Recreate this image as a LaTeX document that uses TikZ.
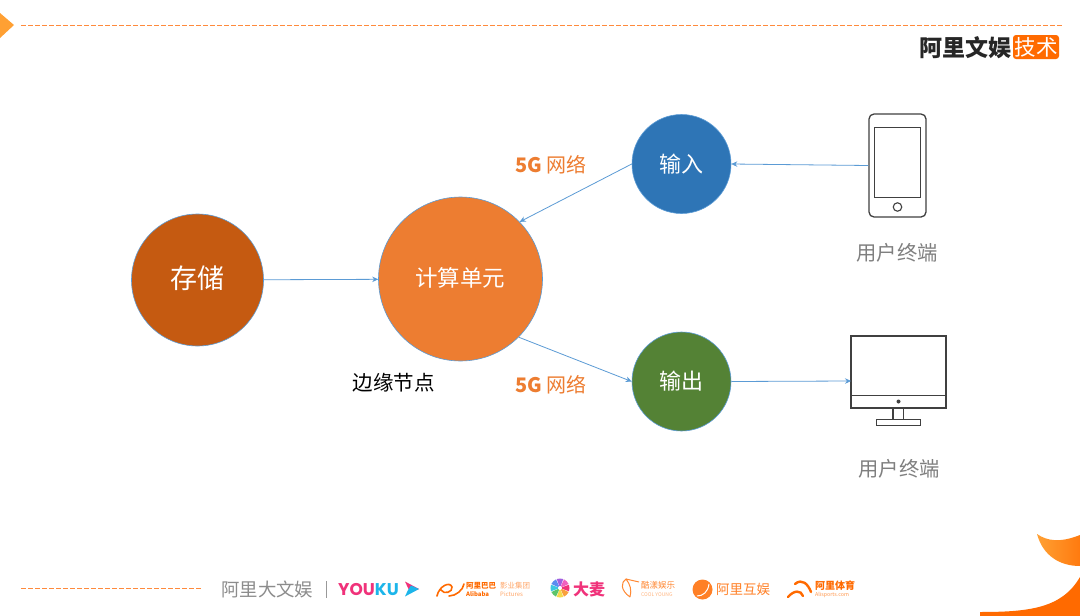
\documentclass[tikz,border=0pt]{standalone}
\usepackage{fontspec}
\setmainfont{Noto Sans CJK SC}
\newfontfamily\latinlogo{Poppins}
\usetikzlibrary{arrows.meta,shapes.geometric}
\definecolor{storec}{HTML}{C55A11}
\definecolor{calcc}{HTML}{ED7D31}
\definecolor{inc}{HTML}{2E75B6}
\definecolor{outc}{HTML}{548235}
\definecolor{edgec}{HTML}{5B9BD5}
\definecolor{greyt}{HTML}{7F7F7F}
\definecolor{brand}{HTML}{FF6A00}
\definecolor{brandl}{HTML}{FFA033}
\definecolor{dashc}{HTML}{FF8A3C}
\definecolor{pinkc}{HTML}{F0327A}
\definecolor{youb}{HTML}{1CB5EA}
\definecolor{iconc}{HTML}{404040}
\definecolor{wa}{HTML}{F0327A}
\definecolor{wb}{HTML}{F9A03C}
\definecolor{wc}{HTML}{F5D94A}
\definecolor{wd}{HTML}{5CC46A}
\definecolor{we}{HTML}{3CC8E0}
\definecolor{wf}{HTML}{5A8CF0}
\definecolor{wg}{HTML}{A060E0}
\definecolor{wh}{HTML}{F060C0}
\tikzset{
  x=1pt,y=-1pt,
  circ/.style={circle,draw=edgec,line width=.6pt,inner sep=0pt,text=white},
  flow/.style={draw=edgec,line width=.8pt,-{Stealth[length=6pt,width=5.5pt]}},
  lbl/.style={inner sep=0pt,anchor=center},
  net/.style={lbl,text=calcc,font=\fontsize{20}{24}\selectfont},
  term/.style={lbl,text=greyt,font=\fontsize{20.3}{24}\selectfont},
  ico/.style={draw=iconc,line width=1.3pt,fill=white,inner sep=0pt},
  hdash/.style={draw=dashc,line width=.9pt,dash pattern=on 4.5pt off 2.5pt},
  small/.style={lbl,anchor=west}
}
\begin{document}
\begin{tikzpicture}
\useasboundingbox (0,0) rectangle (1080,616);
\fill[white] (0,0) rectangle (1080,616);
% decor
\fill[brandl] (0,13) -- (14,25) -- (0,38) -- cycle;
\draw[hdash] (21,25) -- (1064,25);
\draw[hdash] (21,588) -- (202,588);
\shade[left color=brandl,right color=brand!70!brandl] (1037,534) .. controls (1047,541) and (1060,543) .. (1080,535) -- (1080,566) .. controls (1060,566) and (1043,556) .. (1037,534) -- cycle;
\fill[brand] (980,616) -- (980,612) .. controls (1030,612) and (1062,608) .. (1080,577) -- (1080,616) -- cycle;
% header logo
\node[lbl,text=black!85,font=\fontsize{23}{26}\selectfont\bfseries] (hlogo) at (965,48) {阿里文娱};
\node[fill=brand,rounded corners=3pt,minimum width=46pt,minimum height=24pt,inner sep=0pt,text=white,font=\fontsize{21.5}{22}\selectfont] (hbadge) at (1036,47) {技术};
% circles
\node[circ,fill=storec,minimum size=132pt] (store) at (197.5,280) {};
\node[lbl,text=white,font=\fontsize{27}{30}\selectfont] (storet) at (197.5,278) {存储};
\node[circ,fill=calcc,minimum size=164pt] (calc) at (460.5,279) {};
\node[lbl,text=white,font=\fontsize{22.5}{26}\selectfont] (calct) at (460,277.5) {计算单元};
\node[circ,fill=inc,minimum size=99pt,font=\fontsize{22}{24}\selectfont] (in) at (681.5,164) {输入};
\node[circ,fill=outc,minimum size=99pt,font=\fontsize{22}{24}\selectfont] (out) at (681.5,381.5) {输出};
% phone
\node[ico,rounded corners=5pt,minimum width=57pt,minimum height=103pt] (phone) at (897.5,165.5) {};
\node[draw=iconc,line width=1pt,inner sep=0pt,minimum width=46pt,minimum height=70pt] (phonescr) at (897.5,162.5) {};
\node[circle,draw=iconc,line width=1.1pt,inner sep=0pt,minimum size=8.5pt] (phonebtn) at (897.5,207) {};
% monitor
\node[ico,minimum width=95pt,minimum height=72pt] (mon) at (898.5,372) {};
\coordinate (moninl) at (851,381);
\draw[iconc,line width=1.3pt] (851,395.5) -- (946,395.5);
\fill[iconc] (898.5,401.5) circle (2pt);
\draw[iconc,line width=1.3pt] (893,408) -- (893,419) (903.5,408) -- (903.5,419);
\node[ico,minimum width=44pt,minimum height=6pt] (monbase) at (898.5,422.5) {};
% connectors
\draw[flow] (store) -- (calc);
\draw[flow] (in.west) -- (calc.44);
\draw[flow] (calc.-45) -- (out.west);
\draw[flow] (phone.west) -- (in.east);
\draw[flow] (out.east) -- (moninl);
% labels
\node[net] (net1) at (551,165) {\textbf{5G} 网络};
\node[net] (net2) at (551,385) {\textbf{5G} 网络};
\node[lbl,text=black,font=\fontsize{20.5}{24}\selectfont] (edge) at (393.5,382.5) {边缘节点};
\node[term] (t1) at (897,253) {用户终端};
\node[term] (t2) at (899,469) {用户终端};
% footer
\node[small,text=black!45,font=\fontsize{18.4}{20}\selectfont] (f1) at (221,589) {阿里大文娱};
\draw[black!40,line width=.8pt] (326,581) -- (326,598);
\node[small,text=pinkc,font=\fontsize{17}{20}\latinlogo\bfseries] (f2) at (338,589.5) {YOU\textcolor{youb}{KU}};
\fill[pinkc] (405,581.5) -- (419,589) -- (411,592.5) -- (408,588) -- cycle;
\fill[youb] (405,596.5) -- (419,589) -- (411,585.5) -- (408,590) -- cycle;
% alibaba
\draw[brand,line width=1.6pt,line cap=round] (437,596) .. controls (439,586) and (450,581) .. (452,587) .. controls (453,592) and (444,595) .. (441,590) (449,596) .. controls (456,596) and (463,590) .. (464,584);
\node[small,text=brand,font=\fontsize{7.5}{8}\selectfont\bfseries] (f3a) at (466,586) {阿里巴巴};
\node[small,text=brand!60,font=\fontsize{7.5}{8}\selectfont] (f3b) at (500,586) {影业集团};
\node[small,text=brand,font=\fontsize{6}{7}\selectfont\bfseries] (f3c) at (466,594) {Alibaba};
\node[small,text=brand!60,font=\fontsize{6}{7}\selectfont] (f3d) at (500,594) {Pictures};
% damai
\foreach \a/\wcol in {0/wa,45/wb,90/wc,135/wd,180/we,225/wf,270/wg,315/wh}{
  \fill[\wcol] (560,588) -- ++(\a-20:9.5) arc[start angle=\a-20,end angle=\a+20,radius=9.5] -- cycle;
}
\fill[white] (560,588) circle (2pt);
\node[small,text=pinkc,font=\fontsize{16}{18}\selectfont\bfseries] (f4) at (573,589.5) {大麦};
% cool young
\draw[brand!80,line width=1pt] (630,597) .. controls (620,590) and (621,582) .. (626,579) .. controls (630,584) and (632,590) .. (630,597) (626,579) -- (639,582);
\node[small,text=brand!80,font=\fontsize{8.5}{9}\selectfont] (f5a) at (641,585) {酷漾娱乐};
\node[small,text=brand!50,font=\fontsize{5}{6}\selectfont] (f5b) at (641,594.5) {COOL YOUNG};
% huyu
\fill[brand!85] (702.5,589.5) circle (10pt);
\draw[white,line width=1pt] (697,596) .. controls (703,596) and (708,592) .. (709,584);
\node[small,text=brand!85,font=\fontsize{13.5}{15}\selectfont] (f6) at (716,589) {阿里互娱};
% alisports
\draw[brand,line width=2.4pt,line cap=round] (788,597) .. controls (794,590) and (801,590) .. (803,596) (795,584) .. controls (802,578) and (808,584) .. (811,592);
\node[small,text=brand,font=\fontsize{10}{11}\selectfont\bfseries] (f7a) at (815,586) {阿里体育};
\node[small,text=brand!70,font=\fontsize{5.3}{6}\selectfont] (f7b) at (815,594.5) {Alisports.com};
\end{tikzpicture}
\end{document}
